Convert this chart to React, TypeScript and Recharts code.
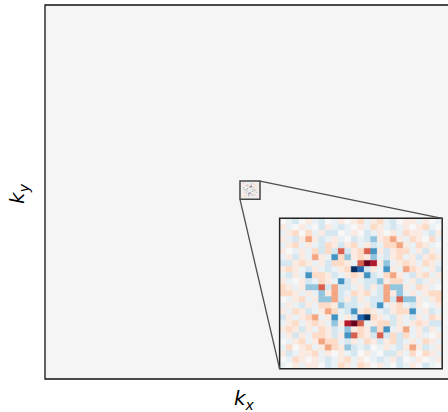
import React from 'react';
import { ComposedChart, XAxis, YAxis, ReferenceArea, ReferenceLine } from 'recharts';

// full k-space grid is 512 x 512, mostly ~0
const K_DOMAIN: [number, number] = [-256, 256];

// zoomed window (kx, ky) and where the inset sits in the main axes (data units)
const ZOOM_X: [number, number] = [-12.5, 12.5];
const ZOOM_Y: [number, number] = [-10, 15];
const INSET_X: [number, number] = [37, 240];
const INSET_Y: [number, number] = [-242, -36];

// colour levels (RdBu_r, -1..1)
const LEVELS: Record<string, number> = {
  U: -1, u: -0.8, B: -0.6, b: -0.4, c: -0.18, d: -0.07, '.': 0,
  e: 0.09, p: 0.2, P: 0.4, o: 0.6, r: 0.8, R: 1,
};

// 25 x 25 zoomed patch, top row first
const ZOOM_ROWS = [
  '.dc.edc.de.epdepdc.eede.d',
  'ed.ed.cedcd.edpedcde.epd.',
  'dep.pdecc.de.cde.edpeedce',
  'edcePecded.cdcbepPedpe.pd',
  'depdedcpecepdecdppPedped.',
  'e.dedpcpcocepoBeceppdeced',
  'decedPedBpbepebdcepdecepe',
  'ccepedecppedoRrebdepedped',
  'epedcedcdepUucedBedPpedec',
  'dcedBppecdepeBcdpPedcepde',
  'ed.ecdpedBcedccbeppdecded',
  'pedebbocPccdececPbbedped.',
  'ppededbePcdpepdcPebdedepp',
  '.depdebbPcecedccPcobbedep',
  'dedcedppebccdecBdepdce.de',
  'edpecdePpdcBepedceppBdecd',
  'cedepPdeBdecuUpedcedcedpe',
  'depdepedberRodeppcedepecc',
  'epecedpecdbepebpBdePdeced',
  'decedppeceBopecocpcpded.e',
  '.depdePppdcedpecepcdedped',
  'dp.epdePpebcdc.dedcePecde',
  'ecdeepde.edc.ed.ccedp.ped',
  '.dpe.edcdepde.dcdec.de.de',
  'd.edee.cdpedpe.ed.cde.cd.',
];

const RDBU_R = ['#053061', '#2166ac', '#4393c3', '#92c5de', '#d1e5f0', '#f7f7f7', '#fddbc7', '#f4a582', '#d6604d', '#b2182b', '#67001f'];

const hex = (c: string) => [1, 3, 5].map(k => parseInt(c.slice(k, k + 2), 16));

const colorFor = (v: number) => {
  const t = ((Math.max(-1, Math.min(1, v)) + 1) / 2) * 10;
  const i = Math.min(9, Math.floor(t));
  const f = t - i;
  const a = hex(RDBU_R[i]);
  const b = hex(RDBU_R[i + 1]);
  const rgb = a.map((x, k) => Math.round(x + (b[k] - x) * f));
  return `rgb(${rgb.join(',')})`;
};

const cells = ZOOM_ROWS.flatMap((row, i) => row.split('').map((ch, j) => ({ i, j, v: LEVELS[ch] ?? 0 })));
const N = ZOOM_ROWS.length;

const MARGIN = { top: 5, right: 25, bottom: 33, left: 45 };
const W = 480;
const H = 412;

const labelStyle: React.CSSProperties = {
  position: 'absolute', fontFamily: 'DejaVu Sans', fontStyle: 'italic', fontSize: 20, lineHeight: 1, color: '#000', whiteSpace: 'nowrap',
};
const subStyle: React.CSSProperties = { fontSize: 14, verticalAlign: -5 };

export default function App() {
  const cw = (INSET_X[1] - INSET_X[0]) / N;
  const chh = (INSET_Y[1] - INSET_Y[0]) / N;
  const plotCx = MARGIN.left + (W - MARGIN.left - MARGIN.right) / 2;
  const plotCy = MARGIN.top + (H - MARGIN.top - MARGIN.bottom) / 2;
  return (
    <div style={{ position: 'fixed', left: 0, top: 0, width: 448, height: 412, overflow: 'hidden', background: '#fff' }}>
      <ComposedChart width={W} height={H} data={[]} margin={MARGIN}>
        <XAxis type="number" dataKey="x" domain={K_DOMAIN} allowDataOverflow hide />
        <YAxis type="number" dataKey="y" domain={K_DOMAIN} allowDataOverflow hide />

        <ReferenceArea x1={K_DOMAIN[0]} x2={K_DOMAIN[1]} y1={K_DOMAIN[0]} y2={K_DOMAIN[1]} fill="#f5f5f5" fillOpacity={1} stroke="#111" strokeWidth={1.3} />

        {cells.map(c => (
          <ReferenceArea key={`s${c.i}-${c.j}`} x1={ZOOM_X[0] + c.j} x2={ZOOM_X[0] + c.j + 1} y1={ZOOM_Y[1] - c.i - 1} y2={ZOOM_Y[1] - c.i} fill={colorFor(c.v)} fillOpacity={1} stroke="none" />
        ))}
        <ReferenceArea x1={ZOOM_X[0]} x2={ZOOM_X[1]} y1={ZOOM_Y[0]} y2={ZOOM_Y[1]} fill="none" stroke="#444" strokeWidth={1.5} />

        <ReferenceLine segment={[{ x: ZOOM_X[1], y: ZOOM_Y[1] }, { x: INSET_X[1], y: INSET_Y[1] }]} stroke="#4d4d4d" strokeWidth={1.3} />
        <ReferenceLine segment={[{ x: ZOOM_X[0], y: ZOOM_Y[0] }, { x: INSET_X[0], y: INSET_Y[0] }]} stroke="#4d4d4d" strokeWidth={1.3} />

        {cells.map(c => (
          <ReferenceArea key={`i${c.i}-${c.j}`} x1={INSET_X[0] + c.j * cw} x2={INSET_X[0] + (c.j + 1) * cw} y1={INSET_Y[1] - (c.i + 1) * chh} y2={INSET_Y[1] - c.i * chh} fill={colorFor(c.v)} fillOpacity={1} stroke={colorFor(c.v)} strokeWidth={0.4} />
        ))}
        <ReferenceArea x1={INSET_X[0]} x2={INSET_X[1]} y1={INSET_Y[0]} y2={INSET_Y[1]} fill="none" stroke="#222" strokeWidth={1.5} />
      </ComposedChart>

      <div style={{ ...labelStyle, left: plotCx - 16, top: H - MARGIN.bottom + 9 }}>
        k<sub style={subStyle}>x</sub>
      </div>
      <div style={{ ...labelStyle, left: 19, top: plotCy + 2, transform: 'translate(-50%, -50%) rotate(-90deg)' }}>
        k<sub style={subStyle}>y</sub>
      </div>
    </div>
  );
}
